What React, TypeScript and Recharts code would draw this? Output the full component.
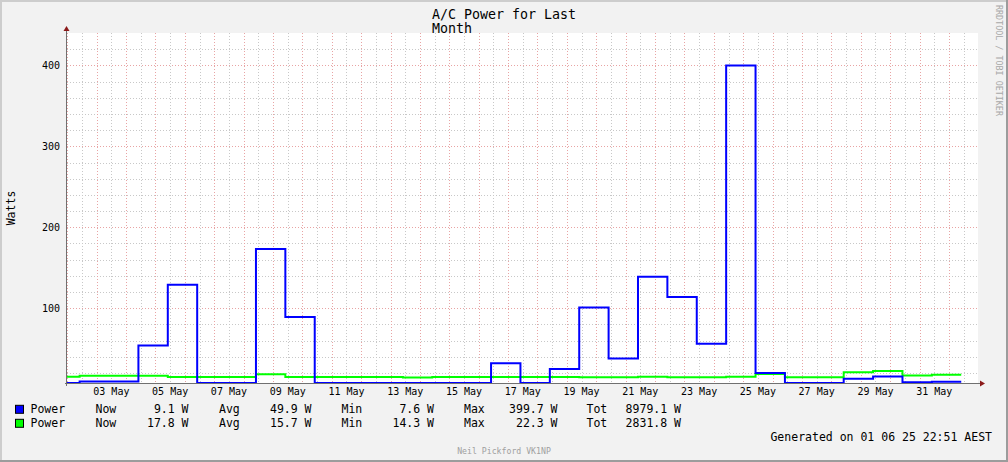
import React from 'react';
import { LineChart, Line, XAxis, YAxis, CartesianGrid, ReferenceLine } from 'recharts';

// Daily consolidation buckets (start time, in days since 01 May 00:00 AEST)
const bucketStart = [
  0.42, 1.42, 2.42, 3.42, 4.42, 5.42, 6.42, 7.42, 8.42, 9.42, 10.42,
  11.42, 12.42, 13.42, 14.42, 15.42, 16.42, 17.42, 18.42, 19.42, 20.42,
  21.42, 22.42, 23.42, 24.42, 25.42, 26.42, 27.42, 28.42, 29.42, 30.42, 31.42,
];
// Series 1 (blue) – Power, W
const bluePower = [
  7.6, 9.5, 9.5, 54, 129, 7.6, 7.6, 173, 89, 7.6, 7.6,
  7.6, 7.6, 7.6, 7.6, 32, 7.6, 25, 101, 38, 139,
  114, 56, 399.7, 20, 7.6, 7.6, 13, 15.5, 8.5, 9.1, 9.1,
];
// Series 2 (green) – Power, W
const greenPower = [
  15.3, 16.6, 16.6, 16.6, 15.0, 15.0, 15.0, 18.5, 15.0, 15.0, 15.0,
  15.0, 14.3, 15.0, 15.0, 15.0, 15.0, 15.0, 14.6, 14.6, 15.2,
  14.6, 14.6, 15.2, 18.6, 14.6, 14.6, 20.8, 22.3, 16.8, 17.8, 17.8,
];

const xTickPos = [2.5, 4.5, 6.5, 8.5, 10.5, 12.5, 14.5, 16.5, 18.5, 20.5, 22.5, 24.5, 26.5, 28.5, 30.5];
const xTickLabels = ['03 May', '05 May', '07 May', '09 May', '11 May', '13 May', '15 May', '17 May', '19 May', '21 May', '23 May', '25 May', '27 May', '29 May', '31 May'];
const yTicks = [100, 200, 300, 400];

const seriesNames = ['Power', 'Power'];
const seriesColors = ['#0000ff', '#00ff00'];
const nowVals = ['9.1', '17.8'];
const avgVals = ['49.9', '15.7'];
const minVals = ['7.6', '14.3'];
const maxVals = ['399.7', '22.3'];
const totVals = ['8979.1', '2831.8'];

const X_DOMAIN: [number, number] = [0.99, 31.99];
const Y_DOMAIN: [number, number] = [7.6, 440];

const majorX = Array.from({ length: 31 }, (_, i) => i + 1);
const minorX = Array.from({ length: 31 }, (_, i) => i + 1.5);
const majorY = [100, 200, 300, 400];
const minorY = Array.from({ length: 21 }, (_, i) => (i + 1) * 20).filter((v) => v % 100 !== 0);

const rows = bucketStart.map((t, i) => ({ t, blue: bluePower[i], green: greenPower[i] }));

const FONT = '"DejaVu Sans Mono", monospace';
const AXIS_COLOR = '#707070';
const ARROW_COLOR = '#8b1a1a';
const MINOR_COLOR = '#c8c8c8';
const MAJOR_COLOR = '#e8a4a4';

const makeGridShape = (color: string) => (p: any) => {
  const { x1, y1, x2, y2 } = p;
  const vertical = Math.abs(x1 - x2) < 0.01;
  if (vertical) {
    const x = Math.round(x1) + 0.5;
    return <line x1={x} y1={Math.min(y1, y2)} x2={x} y2={Math.max(y1, y2)} stroke={color} strokeWidth={1} strokeDasharray="1 2" />;
  }
  const y = Math.round(y1) + 0.5;
  return <line x1={Math.min(x1, x2)} y1={y} x2={Math.max(x1, x2)} y2={y} stroke={color} strokeWidth={1} strokeDasharray="1 2" />;
};
const MinorGrid = makeGridShape(MINOR_COLOR);
const MajorGrid = makeGridShape(MAJOR_COLOR);

const XAxisShape = (p: any) => {
  const { x1, y1, x2 } = p;
  const y = Math.round(y1) + 0.5;
  const xe = Math.max(x1, x2);
  return (
    <g>
      <line x1={Math.min(x1, x2) - 2} y1={y} x2={xe + 2} y2={y} stroke={AXIS_COLOR} strokeWidth={1} />
      <polygon points={`${xe + 2},${y - 3} ${xe + 7},${y} ${xe + 2},${y + 3}`} fill={ARROW_COLOR} />
    </g>
  );
};

const YAxisShape = (p: any) => {
  const { x1, y1, y2 } = p;
  const x = Math.round(x1) - 0.5;
  const top = Math.min(y1, y2);
  const bottom = Math.max(y1, y2);
  return (
    <g>
      <line x1={x} y1={bottom + 3} x2={x} y2={top - 2} stroke={AXIS_COLOR} strokeWidth={1} />
      <polygon points={`${x - 3},${top - 2} ${x},${top - 7} ${x + 3},${top - 2}`} fill={ARROW_COLOR} />
    </g>
  );
};

const legendCols = [
  { label: 'Now', lx: 95.5, vx: 188.5, vals: nowVals },
  { label: 'Avg', lx: 219, vx: 311.5, vals: avgVals },
  { label: 'Min', lx: 341.5, vx: 434, vals: minVals },
  { label: 'Max', lx: 464, vx: 557.5, vals: maxVals },
  { label: 'Tot', lx: 586.5, vx: 681, vals: totVals },
];

export default function App() {
  return (
    <div
      style={{
        position: 'absolute',
        left: 0,
        top: 0,
        width: 1008,
        height: 462,
        background: '#f2f2f2',
        overflow: 'hidden',
      }}
    >
      <div style={{ position: 'absolute', left: 0, top: 0 }}>
        <LineChart width={1008} height={462} data={rows} margin={{ top: 33, right: 30, bottom: 59, left: 7 }}>
          <CartesianGrid horizontal={false} vertical={false} fill="#ffffff" fillOpacity={1} stroke="none" />
          {minorY.map((v) => (
            <ReferenceLine key={`my${v}`} y={v} shape={MinorGrid} />
          ))}
          {minorX.map((v) => (
            <ReferenceLine key={`mx${v}`} x={v} shape={MinorGrid} />
          ))}
          {majorY.map((v) => (
            <ReferenceLine key={`My${v}`} y={v} shape={MajorGrid} />
          ))}
          {majorX.map((v) => (
            <ReferenceLine key={`Mx${v}`} x={v} shape={MajorGrid} />
          ))}
          <XAxis
            dataKey="t"
            type="number"
            domain={X_DOMAIN}
            allowDataOverflow
            ticks={xTickPos}
            interval={0}
            tickFormatter={(v: number) => xTickLabels[xTickPos.indexOf(v)]}
            axisLine={false}
            tickLine={false}
            tickSize={0}
            tickMargin={5}
            height={20}
            tick={{ fontFamily: FONT, fontSize: 10, fill: '#000' }}
          />
          <YAxis
            type="number"
            domain={Y_DOMAIN}
            allowDataOverflow
            ticks={yTicks}
            interval={0}
            axisLine={false}
            tickLine={false}
            tickSize={0}
            tickMargin={7}
            width={60}
            tick={{ fontFamily: FONT, fontSize: 10, fill: '#000' }}
          />
          <Line
            dataKey="green"
            type="stepAfter"
            stroke={seriesColors[1]}
            strokeWidth={2}
            strokeLinejoin="miter"
            dot={false}
            activeDot={false}
            isAnimationActive={false}
          />
          <Line
            dataKey="blue"
            type="stepAfter"
            stroke={seriesColors[0]}
            strokeWidth={2}
            strokeLinejoin="miter"
            dot={false}
            activeDot={false}
            isAnimationActive={false}
          />
          <ReferenceLine y={Y_DOMAIN[0]} shape={XAxisShape} ifOverflow="visible" />
          <ReferenceLine x={X_DOMAIN[0]} shape={YAxisShape} ifOverflow="visible" />
        </LineChart>
      </div>
      <svg
        width={1008}
        height={462}
        style={{ position: 'absolute', left: 0, top: 0, pointerEvents: 'none' }}
        fontFamily={FONT}
      >
        <text x={432} y={18.5} fontSize={13.3} fill="#000">A/C Power for Last</text>
        <text x={432} y={33} fontSize={13.3} fill="#000">Month</text>
        <text
          x={14.5}
          y={208}
          fontSize={11.5}
          fill="#000"
          textAnchor="middle"
          transform="rotate(-90 14.5 208)"
        >
          Watts
        </text>
        <text x={996} y={5} fontSize={8.4} fill="#a8a8a8" transform="rotate(90 996 5)">
          RRDTOOL / TOBI OETIKER
        </text>
        {seriesNames.map((name, r) => {
          const base = 413.3 + r * 14;
          return (
            <g key={`lg${r}`}>
              <rect x={15.5} y={base - 8} width={8} height={8} fill={seriesColors[r]} stroke="#000" strokeWidth={1} />
              <text x={30.5} y={base} fontSize={11.5} fill="#000">{name}</text>
              {legendCols.map((c) => (
                <g key={c.label}>
                  <text x={c.lx} y={base} fontSize={11.5} fill="#000">{c.label}</text>
                  <text x={c.vx} y={base} fontSize={11.5} fill="#000" textAnchor="end">{`${c.vals[r]} W`}</text>
                </g>
              ))}
            </g>
          );
        })}
        <text x={992} y={441} fontSize={11.5} fill="#000" textAnchor="end">
          Generated on 01 06 25 22:51 AEST
        </text>
        <text x={504} y={454} fontSize={8.2} fill="#a0a0a0" textAnchor="middle">
          Neil Pickford VK1NP
        </text>
      </svg>
      <div style={{ position: 'absolute', left: 0, top: 0, width: 1008, height: 2, background: '#cdcdcd' }} />
      <div style={{ position: 'absolute', left: 0, top: 0, width: 2, height: 462, background: '#cdcdcd' }} />
      <div style={{ position: 'absolute', left: 0, top: 460, width: 1008, height: 2, background: '#9c9c9c' }} />
      <div style={{ position: 'absolute', left: 1006, top: 0, width: 2, height: 462, background: '#9c9c9c' }} />
    </div>
  );
}
